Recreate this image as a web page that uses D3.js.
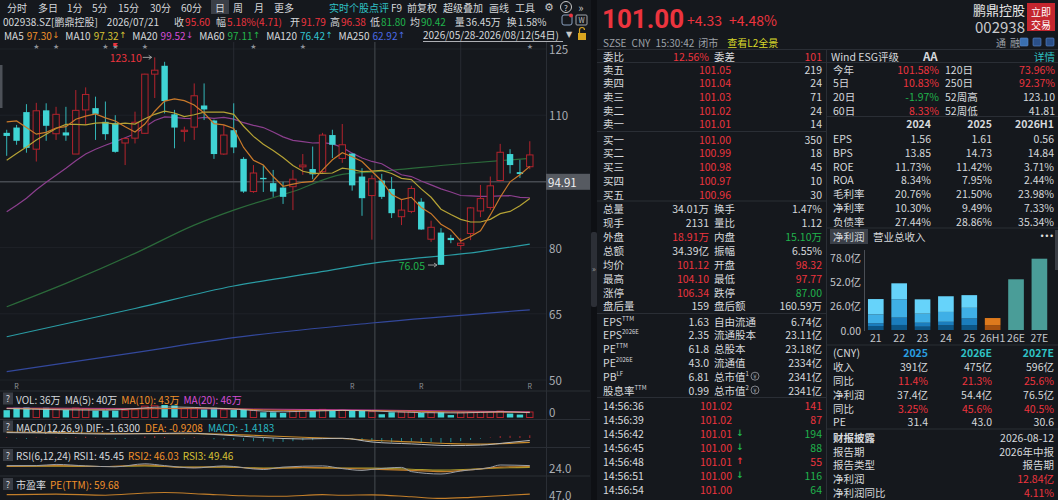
<!DOCTYPE html>
<html><head><meta charset="utf-8">
<script src="https://cdn.jsdelivr.net/npm/d3@7"></script>
<style>
html,body{margin:0;padding:0;background:#15181d;overflow:hidden}
svg{display:block}
text{font-family:'Noto Sans CJK SC','Noto Sans',sans-serif}
</style></head><body>
<svg id="c" width="1058" height="500"></svg>
<script>
// ---------------- DATA ----------------
const dates = ["2026/05/28","2026/05/29","2026/06/01","2026/06/02","2026/06/03","2026/06/04","2026/06/05","2026/06/08","2026/06/09","2026/06/10",
"2026/06/11","2026/06/12","2026/06/15","2026/06/16","2026/06/17","2026/06/18","2026/06/22","2026/06/23","2026/06/24","2026/06/25",
"2026/06/26","2026/06/29","2026/06/30","2026/07/01","2026/07/02","2026/07/03","2026/07/06","2026/07/07","2026/07/08","2026/07/09",
"2026/07/10","2026/07/13","2026/07/14","2026/07/15","2026/07/16","2026/07/17","2026/07/20","2026/07/21","2026/07/22","2026/07/23",
"2026/07/24","2026/07/27","2026/07/28","2026/07/29","2026/07/30","2026/07/31","2026/08/03","2026/08/04","2026/08/05","2026/08/06",
"2026/08/07","2026/08/10","2026/08/11","2026/08/12"];
const open  = [106.0,107.2,110.7,102.3,111.1,105.8,106.1,101.2,111.2,111.6,108.5,108.2,103.7,104.8,105.9,119.3,121.2,110.2,106.4,107.3,
112.2,108.8,101.2,106.6,100.1,92.7,95.8,94.6,93.6,93.8,98.3,97.8,97.2,105.5,100.2,101.3,96.1,91.79,95.2,93.3,
87.0,88.2,90.4,81.9,83.4,82.2,80.5,83.2,88.3,89.1,95.2,101.2,97.1,98.32];
const high  = [106.7,107.8,112.5,112.8,112.7,111.9,111.9,115.7,116.3,114.2,113.1,110.0,104.9,110.8,119.4,123.1,122.1,111.2,107.4,117.2,
117.2,109.0,107.8,112.7,100.5,98.7,98.7,97.6,94.9,97.6,101.2,102.9,106.0,106.7,108.0,101.4,98.0,96.38,96.7,96.0,
90.8,94.0,91.2,86.1,84.4,82.9,82.2,89.2,94.2,96.1,103.5,102.3,99.9,104.10];
const low   = [100.8,103.3,101.5,99.5,104.2,104.4,104.2,101.2,107.8,104.4,104.4,101.5,98.7,103.6,105.8,113.9,110.4,102.5,104.0,104.4,
108.9,100.1,101.0,101.4,92.4,92.4,92.6,91.5,89.9,88.5,96.5,95.5,96.9,100.3,99.2,92.9,87.2,81.80,91.0,86.7,
85.1,87.8,84.0,81.3,76.05,81.0,79.5,81.7,86.9,88.5,95.0,96.8,95.8,97.77];
const close = [105.3,104.2,102.6,111.0,107.6,110.2,105.4,111.1,114.7,110.3,105.7,101.7,104.7,108.4,119.3,120.2,113.2,107.2,106.6,114.4,
111.3,101.2,105.5,102.7,92.7,96.9,95.5,92.7,91.5,95.5,98.7,96.6,105.5,103.3,103.3,94.1,91.2,95.60,91.5,87.8,
88.5,93.4,84.1,84.6,76.1,81.7,81.0,89.0,91.1,94.0,101.6,98.7,96.67,101.00];
const ma5  = [108.5,108.7,107.2,105.7,106.1,107.1,107.4,109.1,109.8,110.3,109.4,108.7,107.4,106.2,108.0,110.9,113.2,113.7,113.3,112.3,
110.5,108.1,107.8,107.0,102.7,99.8,98.7,96.1,93.9,94.4,94.8,95.0,97.6,99.9,101.5,100.6,99.5,97.3,95.1,92.0,
90.9,91.4,89.1,87.7,85.3,84.0,81.5,82.5,83.8,87.4,91.4,94.9,96.5,98.4];
const ma10 = [99.8,101.3,102.8,104.4,105.7,107.0,107.9,107.9,107.8,108.2,108.3,108.0,108.2,108.0,109.2,110.2,110.9,110.5,109.7,110.1,
110.7,110.7,110.7,110.2,107.5,105.2,103.4,102.0,100.4,98.6,97.3,96.8,96.8,96.9,98.0,97.7,97.2,97.32,97.5,96.8,
95.7,95.4,93.3,91.4,88.7,87.5,86.4,85.8,85.8,86.4,87.7,88.2,89.5,91.1];
const ma20 = [88.1,89.6,91.2,93.1,94.8,96.4,98.0,99.7,101.2,102.3,103.2,104.0,104.9,105.8,107.3,108.8,109.6,109.5,109.3,109.2,
109.5,109.3,109.5,109.1,108.3,107.7,107.2,106.2,105.1,104.3,104.0,103.7,103.8,103.5,102.7,101.4,100.3,99.52,99.0,97.7,
96.5,96.1,95.1,94.2,93.3,92.6,91.8,91.7,91.6,91.6,91.7,91.8,91.4,91.3];
const ma60  = [[0,66.6],[6,71.9],[13,78.7],[19,85.1],[23,88.5],[29,92.7],[34,96.6],[37,97.11],[46,99.0],[53,100.2]];
const ma120 = [[0,59.8],[13,66.2],[23,71.3],[31,74.2],[37,76.42],[48,79.1],[53,80.8]];
const ma250 = [[0,51.9],[13,56.2],[23,59.6],[37,62.92],[53,65.9]];
const maLegend = [["MA5","97.30","↓"],["MA10","97.32","↑"],["MA20","99.52","↓"],["MA60","97.11","↑"],["MA120","76.42","↑"],["MA250","62.92","↑"]];
const priceTicks = [125,110,80,65,50];
const starIdx = [3,5,10,14,25,30,53];
const flagIdx = 11;
const rIdx = [1,35,42,53];
const monthIdx = [23,46];
const hoverIdx = 37;
const crossPrice = 94.91;
const volume = [45,60,62,55,60,50,46,58,55,42,42,42,45,48,70,72,77,74,55,58,
50,60,48,46,52,45,32,32,28,40,42,40,50,40,44,40,40,36,20,32,
34,35,28,32,32,15,30,32,34,36,40,24,18,34];
const volMa5  = [[0,55],[10,45],[16,65],[22,55],[28,35],[34,44],[37,40],[42,30],[46,28],[50,35],[53,30]];
const volMa10 = [[0,56],[10,50],[20,58],[28,44],[37,43],[45,34],[53,32]];
const volMa20 = [[0,58],[15,55],[25,52],[37,46],[45,40],[53,35]];
const macdHist = [0.3,-0.2,-0.4,0.2,-0.1,0.2,-0.2,0.3,0.5,0.2,-0.2,-0.5,-0.4,-0.1,0.6,0.8,0.4,0.0,-0.2,0.3,
0.1,-0.5,-0.6,-0.8,-1.2,-1.3,-1.4,-1.5,-1.6,-1.3,-1.0,-0.9,-0.3,-0.2,-0.1,-0.6,-1.1,-1.42,-1.6,-1.8,
-1.7,-1.4,-1.7,-1.6,-1.9,-1.7,-1.3,-0.8,-0.3,0.2,0.8,0.9,0.8,1.1];
const dif = [[0,2.2],[5,2.0],[10,1.6],[15,1.8],[18,2.0],[22,1.2],[26,0.2],[30,-0.4],[34,-0.1],[37,-1.63],[41,-2.4],[45,-3.1],[48,-2.9],[51,-1.8],[53,-1.0]];
const dea = [[0,2.4],[5,2.2],[10,1.9],[15,1.8],[20,1.7],[25,1.1],[30,0.3],[34,-0.2],[37,-0.92],[41,-1.6],[45,-2.3],[48,-2.5],[51,-2.2],[53,-1.8]];
const rsi1 = [[0,58],[3,58],[5,62],[8,57],[11,54],[14,64],[16,58],[19,50],[22,57],[26,45],[28,53],[32,57],[34,48],[36,42],[37,45.45],[40,52],[41,38],[44,30],[46,40],[49,52],[50,60],[53,58]];
const rsi2 = [[0,56],[5,58],[10,55],[14,60],[18,52],[22,54],[26,48],[30,52],[34,49],[37,46.03],[41,42],[44,38],[47,44],[50,53],[53,55]];
const rsi3 = [[0,55],[5,56],[10,55],[14,57],[18,53],[22,53],[26,50],[30,51],[34,50],[37,49.46],[41,46],[44,43],[47,46],[50,50],[53,52]];
const peTTM = [[0,60],[5,61],[10,59],[14,63],[16,64],[20,61],[24,58],[28,57],[32,60],[34,59],[37,59.68],[41,56],[44,53],[47,55],[50,58],[53,61]];

// right panel data
const askLabels = ["卖五","卖四","卖三","卖二","卖一"];
const askPrices = ["101.05","101.04","101.03","101.02","101.01"];
const askVols = ["219","24","71","24","14"];
const bidLabels = ["买一","买二","买三","买四","买五"];
const bidPrices = ["101.00","100.99","100.98","100.97","100.96"];
const bidVols = ["350","18","45","10","30"];
const statRows = [
 ["总量","34.01万","w","换手","1.47%","w"],
 ["现手","2131","w","量比","1.12","w"],
 ["外盘","18.91万","r","内盘","15.10万","g"],
 ["总额","34.39亿","w","振幅","6.55%","w"],
 ["均价","101.12","r","开盘","98.32","r"],
 ["最高","104.10","r","最低","97.77","r"],
 ["涨停","106.34","r","跌停","87.00","g"],
 ["盘后量","159","w","盘后额","160.59万","w"]];
const valRows = [
 ["EPS","TTM","1.63","自由流通","","6.74亿"],
 ["EPS","2026E","2.35","流通股本","","23.11亿"],
 ["PE","TTM","61.8","总股本","","23.18亿"],
 ["PE","2026E","43.0","流通值","","2334亿"],
 ["PB","LF","6.81","总市值","1","2341亿"],
 ["股息率","TTM","0.99","总市值","2","2341亿"]];
const tradeTimes = ["14:56:36","14:56:39","14:56:42","14:56:45","14:56:48","14:56:51","14:56:54","14:56:57"];
const tradePrices = ["101.02","101.02","101.01","101.00","101.01","101.00","101.00","101.00"];
const tradeVols = ["141","87","194","88","55","116","64","90"];
const tradeDir = [1,1,-1,-1,1,-1,-1,-1];
const tradeArrow = [0,0,-1,-1,1,-1,0,0];
const perfRows = [
 ["今年","101.58%","r","120日","73.96%","r"],
 ["5日","10.83%","r","250日","92.37%","r"],
 ["20日","-1.97%","g","52周高","123.10","w"],
 ["60日","8.33%","r","52周低","41.81","w"]];
const finYears = ["2024","2025","2026H1"];
const finRows = [
 ["EPS","1.56","1.61","0.56"],
 ["BPS","13.85","14.73","14.84"],
 ["ROE","11.73%","11.42%","3.71%"],
 ["ROA","8.34%","7.95%","2.44%"],
 ["毛利率","20.76%","21.50%","23.98%"],
 ["净利率","10.30%","9.49%","7.33%"],
 ["负债率","27.44%","28.86%","35.34%"]];
const profitCats = ["21","22","23","24","25","26H1","26E","27E"];
const profitQ1 = [4.3,5.4,3.6,5.0,5.3,5.2,null,null];
const profitQ2 = [2.9,7.9,4.2,3.8,7.1,7.64,null,null];
const profitQ3 = [9.6,19.7,9.7,10.6,11.4,null,null,null];
const profitQ4 = [16.4,17.1,15.4,16.8,13.6,null,null,null];
const profitEst = [null,null,null,null,null,null,54.4,76.5];
const profitTicks = [0,26,52,78];
const fcYears = ["2025","2026E","2027E"];
const fcRows = [
 ["收入","391亿","475亿","596亿","w"],
 ["同比","11.4%","21.3%","25.6%","r"],
 ["净利润","37.4亿","54.4亿","76.5亿","w"],
 ["同比","3.25%","45.6%","40.5%","r"],
 ["PE","31.4","43.0","30.6","w"]];
const discRows = [
 ["财报披露","2026-08-12","w"],
 ["报告期","2026年中报","w"],
 ["报告类型","报告期","w"],
 ["净利润","12.84亿","r"],
 ["净利润同比","4.11%","r"]];

// ---------------- DRAW ----------------
const W="#d6d8dc", GR="#9da1a8", RED="#ec343e", GRN="#20b34c", CY="#3fd4d4", RC="#b3232d", TEAL="#2fc2c6", BG="#15181d", LN="#2a2e35";
const ORG="#f0902a", YEL="#d8c234", MAG="#d64cd6";
const svg = d3.select("#c");
svg.append("rect").attr("width",1058).attr("height",500).attr("fill",BG);
const colOf = k => k==="r"?RED:(k==="g"?GRN:W);
function T(g,x,y,s,o={}){
  return g.append("text").attr("x",x).attr("y",y).attr("dominant-baseline","central")
   .attr("text-anchor",o.a||"start").attr("font-size",o.s||10.5).attr("font-weight",o.w||400)
   .attr("fill",o.c||W).style("font-family",o.f||null).text(s);
}
function F(g,x,y,pieces,size){
  const t = g.append("text").attr("x",x).attr("y",y).attr("dominant-baseline","central").attr("font-size",size);
  pieces.forEach(p=>{const s=t.append("tspan").attr("dx",p[2]||0).attr("fill",p[1]).text(p[0]);
    if(p[3]) s.style("font-family",p[3]); if(p[4]) s.attr("font-size",p[4]);});
  return t;
}
const L = svg.append("g");

// toolbar
const tb = [["分时",7],["多日",38],["1分",67],["5分",92],["15分",118],["30分",150],["60分",181],["日",215],["周",233],["月",254],["更多",274]];
L.append("rect").attr("x",211).attr("y",0).attr("width",18).attr("height",14).attr("fill","#3b3f47");
tb.forEach(d=>T(L,d[1],7,d[0],{s:10}));
T(L,329,7,"实时个股点评",{c:TEAL,s:10});
T(L,391,7,"F9",{s:10});
T(L,407,7,"前复权",{s:10});
T(L,443,7,"超级叠加",{s:10});
T(L,489,7,"画线",{s:10});
T(L,515,7,"工具",{s:10});
T(L,549,7,"⚙",{a:"middle",s:11,c:"#c8c8c8",f:"DejaVu Sans"});
L.append("circle").attr("cx",566).attr("cy",7).attr("r",5.5).attr("fill","none").attr("stroke","#c8c8c8");
T(L,566,7.5,"?",{a:"middle",s:8});
T(L,581,7,"»",{a:"middle",s:11,c:"#c8c8c8"});

// header row 2
const hov = hoverIdx;
F(L,3,20.5,[["002938.SZ[鹏鼎控股]",W,0],[dates[hov],W,9],["收",W,15],[close[hov].toFixed(2),RED,1],["幅",W,6],["5.18%(4.71)",RED,1],
 ["开",W,8],[open[hov].toFixed(2),RED,1],["高",W,4],[high[hov].toFixed(2),RED,1],["低",W,4],[low[hov].toFixed(2),GRN,1],
 ["均",W,4],["90.42",GRN,1],["量",W,9],["36.45万",W,1],["换",W,6],["1.58%",W,1]],10);
L.append("rect").attr("x",562).attr("y",15).attr("width",10).attr("height",10).attr("rx",2).attr("fill","none").attr("stroke","#8aa0c0");
L.append("circle").attr("cx",571).attr("cy",15.5).attr("r",2).attr("fill",RED);
L.append("rect").attr("x",576).attr("y",15).attr("width",11).attr("height",10).attr("rx",1).attr("fill","none").attr("stroke","#a0a4aa");
T(L,581.5,20,"W",{a:"middle",s:7,c:"#c0c0c0"});

// MA legend row
const maCols = [ORG,YEL,MAG,"#24b44a","#32c4d2","#4a6ae6"];
const legPieces = [];
maLegend.forEach((d,k)=>{
  legPieces.push([d[0],W,k==0?0:6]);
  legPieces.push([d[1],maCols[k],3]);
  legPieces.push([d[2],maCols[k],0.5,"DejaVu Sans",8.5]);
});
F(L,4,34.5,legPieces,10);
T(L,423,34.5,dates[0]+"-"+dates[dates.length-1]+"("+dates.length+"日)",{s:10});
L.append("line").attr("x1",423).attr("x2",563).attr("y1",41.5).attr("y2",41.5).attr("stroke",W).attr("stroke-width",0.8);
T(L,569,34.5,"▼",{a:"middle",s:8,c:"#c8c8c8",f:"DejaVu Sans"});
L.append("rect").attr("x",578).attr("y",33).attr("width",8).attr("height",7).attr("fill","#d9a520");
L.append("path").attr("d","M579.5,33 v-3 a2.5,2.5 0 0 1 5,0").attr("fill","none").attr("stroke","#d9a520").attr("stroke-width",1.2);

// scales
const x = d3.scalePoint().domain(dates).range([6.7,529.8]);
const cx = i => x(dates[i]);
const yP = d3.scaleLinear().domain([50,125]).range([380,49]);

// grid + frame
const chartW = 546;
[125,110,95,80,65,50].forEach(v=>L.append("line").attr("x1",0).attr("x2",chartW).attr("y1",yP(v)).attr("y2",yP(v)).attr("stroke","#1e2228"));
monthIdx.forEach(i=>L.append("line").attr("x1",cx(i)).attr("x2",cx(i)).attr("y1",42).attr("y2",391).attr("stroke","#272b32"));
L.append("line").attr("x1",chartW+0.5).attr("x2",chartW+0.5).attr("y1",42).attr("y2",500).attr("stroke",LN);
[391,419.5,447.5,476].forEach(yy=>L.append("line").attr("x1",0).attr("x2",590).attr("y1",yy).attr("y2",yy).attr("stroke",LN));
L.append("rect").attr("x",0).attr("y",65).attr("width",2.5).attr("height",43).attr("fill","#4d5158");

// crosshair
L.append("line").attr("x1",cx(hov)+3).attr("x2",cx(hov)+3).attr("y1",42).attr("y2",500).attr("stroke","#464a51");
L.append("line").attr("x1",0).attr("x2",chartW).attr("y1",yP(crossPrice)).attr("y2",yP(crossPrice)).attr("stroke","#464a51").attr("stroke-width",1.5);

// price labels
priceTicks.forEach(v=>T(L,549,yP(v),String(v),{s:11.5,c:"#a9adb3"}));
L.append("rect").attr("x",546).attr("y",yP(crossPrice)-8).attr("width",44).attr("height",16).attr("fill","#565a61");
T(L,548,yP(crossPrice),crossPrice.toFixed(2),{s:11.5,c:"#f0f0f0"});

// stars / flag / R
starIdx.forEach(i=>T(L,cx(i),47,"★",{a:"middle",s:7,c:"#8e9298",f:"DejaVu Sans"}));
T(L,cx(flagIdx),47,"★",{a:"middle",s:7,c:"#8e9298",f:"DejaVu Sans"});
L.append("path").attr("d",`M${cx(flagIdx)-2},48 v-5 h5 l-2,1.5 l2,1.5 h-5`).attr("fill",RED);
rIdx.forEach(i=>T(L,cx(i),386,"R",{a:"middle",s:7,c:"#8e9298"}));

// MA long lines
const sp = d3.line().x(d=>cx(d[0])).y(d=>yP(d[1])).curve(d3.curveMonotoneX);
const full = d3.line().x((d,i)=>cx(i)).y(d=>yP(d));
L.append("path").attr("d",sp(ma250)).attr("fill","none").attr("stroke","#33489c").attr("stroke-width",1.2);
L.append("path").attr("d",sp(ma120)).attr("fill","none").attr("stroke","#2a9ca4").attr("stroke-width",1.2);
L.append("path").attr("d",sp(ma60)).attr("fill","none").attr("stroke","#2b6a3a").attr("stroke-width",1.2);
L.append("path").attr("d",full(ma20)).attr("fill","none").attr("stroke","#8c3f8e").attr("stroke-width",1.2);

// candles
const idx = d3.range(dates.length);
const up = i => close[i] >= open[i];
const bw = 6.4;
L.append("g").selectAll("line").data(idx).join("line")
 .attr("x1",i=>cx(i)).attr("x2",i=>cx(i)).attr("y1",i=>yP(high[i])).attr("y2",i=>yP(low[i]))
 .attr("stroke",i=>up(i)?RC:"#33b6b8").attr("stroke-width",1);
L.append("g").selectAll("rect").data(idx).join("rect")
 .attr("x",i=>cx(i)-bw/2).attr("width",bw)
 .attr("y",i=>yP(Math.max(open[i],close[i])))
 .attr("height",i=>Math.max(1.2,Math.abs(yP(open[i])-yP(close[i]))))
 .attr("fill",i=>up(i)?BG:CY).attr("stroke",i=>up(i)?RC:"none").attr("stroke-width",1);

L.append("path").attr("d",full(ma10)).attr("fill","none").attr("stroke","#b6a335").attr("stroke-width",1.2);
L.append("path").attr("d",full(ma5)).attr("fill","none").attr("stroke","#c9792a").attr("stroke-width",1.2);

// high / low annotations
const hiI = high.indexOf(d3.max(high)), loI = low.indexOf(d3.min(low));
T(L,cx(hiI)-13,yP(high[hiI]),d3.max(high).toFixed(2),{a:"end",s:10.5,c:RED});
L.append("path").attr("d",`M${cx(hiI)-12},${yP(high[hiI])} h9 m-3,-2 l3,2 l-3,2`).attr("fill","none").attr("stroke","#9a9a9a");
T(L,cx(loI)-16,yP(low[loI]),d3.min(low).toFixed(2),{a:"end",s:10.5,c:GRN});
L.append("path").attr("d",`M${cx(loI)-13},${yP(low[loI])} h9 m-3,-2 l3,2 l-3,2`).attr("fill","none").attr("stroke","#9a9a9a");

// ---- sub panels ----
function qbox(y){L.append("rect").attr("x",3).attr("y",y-6).attr("width",10).attr("height",12).attr("fill","#3a3e46");T(L,8,y,"?",{a:"middle",s:9});}
qbox(398.5);
F(L,16,398.5,[["VOL: "+volume[hov]+"万",W,0],["MA(5): 40万",W,4],["MA(10): 43万",ORG,4],["MA(20): 46万",MAG,4]],10);
const yV = d3.scaleLinear().domain([0,80]).range([417.5,404.5]);
L.append("g").selectAll("rect").data(idx).join("rect")
 .attr("x",i=>cx(i)-bw/2).attr("width",bw).attr("y",i=>yV(volume[i])).attr("height",i=>yV(0)-yV(volume[i]))
 .attr("fill",i=>up(i)?"none":CY).attr("stroke",i=>up(i)?RC:"none");
const spV = d3.line().x(d=>cx(d[0])).y(d=>yV(d[1])).curve(d3.curveMonotoneX);
L.append("path").attr("d",spV(volMa20)).attr("fill","none").attr("stroke","#c03a9a").attr("stroke-width",1);
L.append("path").attr("d",spV(volMa10)).attr("fill","none").attr("stroke","#d07830").attr("stroke-width",1);
L.append("path").attr("d",spV(volMa5)).attr("fill","none").attr("stroke","#c8c8c8").attr("stroke-width",0.8);
T(L,549,412,"0",{s:11.5,c:"#a9adb3"});
qbox(426.5);
F(L,16,426.5,[["MACD(12,26,9) DIF: -1.6300",W,0],["DEA: -0.9208",ORG,5],["MACD: -1.4183","#2ab8c4",5]],10);
const yM = d3.scaleLinear().domain([-4,4]).range([447.8,428.2]);
L.append("g").selectAll("line").data(idx).join("line").attr("x1",i=>cx(i)).attr("x2",i=>cx(i))
 .attr("y1",yM(0)).attr("y2",i=>yM(macdHist[i])).attr("stroke",i=>macdHist[i]>=0?"#b02a30":"#1f8a8e").attr("stroke-width",1);
const spM = d3.line().x(d=>cx(d[0])).y(d=>yM(d[1])).curve(d3.curveMonotoneX);
L.append("path").attr("d",spM(dea)).attr("fill","none").attr("stroke","#c98a2a").attr("stroke-width",1.1);
L.append("path").attr("d",spM(dif)).attr("fill","none").attr("stroke","#b8b8b8").attr("stroke-width",1);
qbox(455);
F(L,16,455,[["RSI(6,12,24) RSI1: 45.45",W,0],["RSI2: 46.03",ORG,4],["RSI3: 49.46",YEL,4]],10);
const yR = d3.scaleLinear().domain([30,70]).range([474,462]);
const spR = d3.line().x(d=>cx(d[0])).y(d=>yR(d[1])).curve(d3.curveMonotoneX);
L.append("path").attr("d",spR(rsi3)).attr("fill","none").attr("stroke","#a89a2c").attr("stroke-width",1.1);
L.append("path").attr("d",spR(rsi2)).attr("fill","none").attr("stroke","#c27e2a").attr("stroke-width",1.1);
L.append("path").attr("d",spR(rsi1)).attr("fill","none").attr("stroke","#9a9ea4").attr("stroke-width",1);
T(L,549,468,"24.0",{s:11.5,c:"#a9adb3"});
qbox(484);
F(L,16,484,[["市盈率",W,0],["PE(TTM): 59.68",ORG,4]],10);
const yE = d3.scaleLinear().domain([50,65]).range([500,492]);
const spE = d3.line().x(d=>cx(d[0])).y(d=>yE(d[1])).curve(d3.curveMonotoneX);
L.append("path").attr("d",spE(peTTM)).attr("fill","none").attr("stroke","#c27e2a").attr("stroke-width",1.1);
T(L,549,494.5,"47.0",{s:11.5,c:"#a9adb3"});

// divider between panels
svg.append("rect").attr("x",591).attr("y",0).attr("width",6).attr("height",500).attr("fill","#0e1014");
svg.append("rect").attr("x",591).attr("y",232).attr("width",6).attr("height",75).attr("rx",2).attr("fill","#2c2f36");
T(svg,594,268,"»",{a:"middle",s:8,c:"#a0a0a0"});

// ---------------- RIGHT PANEL ----------------
const R = svg.append("g");
T(R,602,19,"101.00",{s:26,w:700,c:RED,f:"Roboto"});
T(R,687,20,"+4.33",{s:14,c:RED});
T(R,729,20,"+4.48%",{s:14,c:RED});
T(R,1025,9.5,"鹏鼎控股",{a:"end",s:13,c:"#e6e6e6"});
T(R,1025,26,"002938",{a:"end",s:15,c:"#c8cacd"});
R.append("rect").attr("x",1027).attr("y",3).attr("width",28).attr("height",28).attr("fill","#c4262e");
T(R,1041,11,"立即",{a:"middle",s:10,c:"#fff"});T(R,1041,24,"交易",{a:"middle",s:10,c:"#fff"});
F(R,603,42,[["SZSE",GR,0],["CNY",GR,5],["15:30:42",GR,5],["闭市",GR,4],["查看L2全景","#dada2a",9]],10);
T(R,996,42,"通",{s:10,c:GR});T(R,1010,42,"融",{s:10,c:GR});
[1024,1037,1050].forEach((xx,k)=>{R.append("rect").attr("x",xx-4).attr("y",38).attr("width",8).attr("height",8).attr("rx",1).attr("fill",k==0?"#3a6fb0":"#2a4f88").attr("stroke","#5a8ad0").attr("stroke-width",0.6);});
R.append("line").attr("x1",597).attr("x2",1058).attr("y1",49.5).attr("y2",49.5).attr("stroke",LN);
R.append("line").attr("x1",826.5).attr("x2",826.5).attr("y1",50).attr("y2",500).attr("stroke",LN);

// order book
const lx=603, v1=709, l2=714, v2=822;
T(R,lx,56,"委比");T(R,v1,56,"12.56%",{a:"end",c:RED});T(R,l2,56,"委差");T(R,v2,56,"101",{a:"end",c:RED});
R.append("line").attr("x1",597).attr("x2",826).attr("y1",62.5).attr("y2",62.5).attr("stroke",LN);
askLabels.forEach((s,k)=>{const yy=69+k*13.7;T(R,lx,yy,s);T(R,731,yy,askPrices[k],{a:"end",c:RED});T(R,v2,yy,askVols[k],{a:"end"});});
R.append("line").attr("x1",597).attr("x2",826).attr("y1",131.5).attr("y2",131.5).attr("stroke",LN);
bidLabels.forEach((s,k)=>{const yy=139+k*13.75;T(R,lx,yy,s);T(R,731,yy,bidPrices[k],{a:"end",c:RED});T(R,v2,yy,bidVols[k],{a:"end"});});
R.append("line").attr("x1",597).attr("x2",826).attr("y1",201).attr("y2",201).attr("stroke",LN);
statRows.forEach((r,k)=>{const yy=208.3+k*13.95;T(R,lx,yy,r[0]);T(R,v1,yy,r[1],{a:"end",c:colOf(r[2])});T(R,l2,yy,r[3]);T(R,v2,yy,r[4],{a:"end",c:colOf(r[5])});});
R.append("line").attr("x1",597).attr("x2",826).attr("y1",313.5).attr("y2",313.5).attr("stroke",LN);
valRows.forEach((r,k)=>{const yy=321+k*13.8;
  const t=T(R,lx,yy,r[0]); t.append("tspan").attr("font-size",6).attr("dy",-3.5).text(r[1]);
  T(R,v1,yy,r[2],{a:"end"});
  const t2=T(R,l2,yy,r[3]);
  if(r[4]){t2.append("tspan").attr("font-size",6).attr("dy",-3.5).text(r[4]);
    R.append("circle").attr("cx",l2+41).attr("cy",yy).attr("r",4).attr("fill","none").attr("stroke",GR).attr("stroke-width",0.8);
    T(R,l2+41,yy,"¥",{a:"middle",s:6,c:GR});}
  T(R,v2,yy,r[5],{a:"end"});});
R.append("line").attr("x1",597).attr("x2",826).attr("y1",397.5).attr("y2",397.5).attr("stroke",LN);
tradeTimes.forEach((s,k)=>{const yy=405+k*14;T(R,lx,yy,s);T(R,732,yy,tradePrices[k],{a:"end",c:RED});
  if(tradeArrow[k]!==0){T(R,740,yy,tradeArrow[k]>0?"↑":"↓",{a:"middle",s:9,w:700,c:tradeArrow[k]>0?RED:GRN,f:"DejaVu Sans"});}
  T(R,v2,yy,tradeVols[k],{a:"end",c:tradeDir[k]>0?RED:GRN});});

// right column
const rx=833, rv1=939, rl2=945, rv2=1055;
T(R,831,56,"Wind ESG评级");T(R,923,56,"AA",{w:700,s:11.5});T(R,rv2,56,"详情",{a:"end",c:TEAL});
R.append("line").attr("x1",827).attr("x2",1058).attr("y1",62.5).attr("y2",62.5).attr("stroke",LN);
perfRows.forEach((r,k)=>{const yy=69+k*13.7;T(R,rx,yy,r[0]);T(R,rv1,yy,r[1],{a:"end",c:colOf(r[2])});T(R,rl2,yy,r[3]);T(R,rv2,yy,r[4],{a:"end",c:colOf(r[5])});});
R.append("line").attr("x1",827).attr("x2",1058).attr("y1",116.5).attr("y2",116.5).attr("stroke",LN);
const fcols=[931,992,1054];
finYears.forEach((s,k)=>T(R,fcols[k],123.5,s,{a:"end",w:700}));
finRows.forEach((r,k)=>{const yy=138.3+k*13.87;T(R,rx,yy,r[0]);[1,2,3].forEach(j=>T(R,fcols[j-1],yy,r[j],{a:"end"}));});
R.append("line").attr("x1",827).attr("x2",1058).attr("y1",228).attr("y2",228).attr("stroke",LN);
R.append("rect").attr("x",830).attr("y",229).attr("width",38).attr("height",15).attr("fill","#3b4049");
T(R,833,236.5,"净利润");T(R,873,236.5,"营业总收入");
T(R,1054,236,"•••",{a:"end",s:8,c:"#e0e0e0",f:"DejaVu Sans"});

// mini bar chart
const bx = d3.scaleBand().domain(profitCats).range([864,1051.2]).paddingInner(0.33).paddingOuter(0.17);
const by = d3.scaleLinear().domain([0,78]).range([330,257.3]);
R.append("line").attr("x1",864.5).attr("x2",864.5).attr("y1",250).attr("y2",331).attr("stroke","#4a4e55");
profitTicks.forEach(v=>T(R,861,by(v),v===0?"0.00":v.toFixed(1)+"亿",{a:"end",s:10.5,c:"#c4c6ca"}));
const segCols = ["#0c5585","#1b7dbd","#3fafe6","#66d3fa"];
const segs = [profitQ1,profitQ2,profitQ3,profitQ4];
profitCats.forEach((c,k)=>{
  let acc=0;
  if(profitEst[k]!=null){
    R.append("rect").attr("x",bx(c)).attr("width",bx.bandwidth()).attr("y",by(profitEst[k])).attr("height",by(0)-by(profitEst[k])).attr("fill","#4a9d98");
  } else {
    segs.forEach((s,j)=>{ if(s[k]==null) return;
      const col = c==="26H1" ? (j===0?"#a5500f":"#de7a1d") : segCols[j];
      R.append("rect").attr("x",bx(c)).attr("width",bx.bandwidth()).attr("y",by(acc+s[k])).attr("height",by(acc)-by(acc+s[k])).attr("fill",col);
      acc+=s[k];});
  }
  T(R,bx(c)+bx.bandwidth()/2,337.5,c,{a:"middle",s:10.5,c:"#c4c6ca"});
});
R.append("line").attr("x1",827).attr("x2",1058).attr("y1",345).attr("y2",345).attr("stroke",LN);

// forecast table
T(R,rx,352.7,"(CNY)");
const fcc=["#2a9fe0",TEAL,TEAL];
fcYears.forEach((s,k)=>T(R,fcols[k]-(k==0?3:0),352.7,s,{a:"end",w:700,c:fcc[k]}));
fcRows.forEach((r,k)=>{const yy=366.3+k*13.9;T(R,rx,yy,r[0]);[1,2,3].forEach(j=>T(R,fcols[j-1]-(j==1?3:0),yy,r[j],{a:"end",c:colOf(r[4])}));});
R.append("line").attr("x1",827).attr("x2",1058).attr("y1",429).attr("y2",429).attr("stroke",LN);
discRows.forEach((r,k)=>{const yy=437.3+k*13.7;T(R,rx,yy,r[0],{w:k==0?700:400});T(R,1054,yy,r[1],{a:"end",c:colOf(r[2])});});
R.append("rect").attr("x",1055).attr("y",230).attr("width",3).attr("height",40).attr("fill","#3a3e45");
</script>
</body></html>
